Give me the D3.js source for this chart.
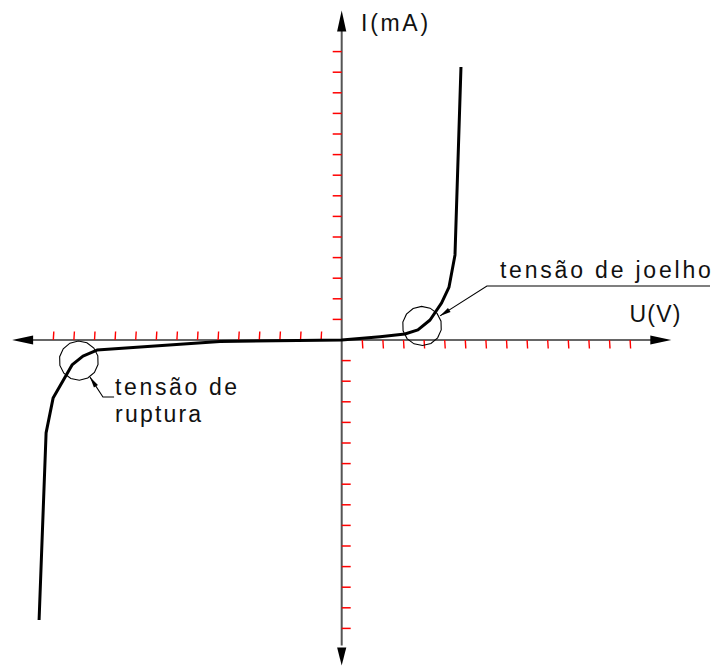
<!DOCTYPE html>
<html>
<head>
<meta charset="utf-8">
<script src="https://cdn.jsdelivr.net/npm/d3@7"></script>
<style>
  html, body { margin: 0; padding: 0; background: #fff; }
  svg { display: block; }
  text { font-family: "Liberation Sans", Arial, sans-serif; font-size: 23px; fill: #111; }
</style>
</head>
<body>
<svg id="chart" width="715" height="668"></svg>
<script>
// ---- data (units: one tick = one unit) ----
const voltage = [-14.69, -14.35, -14.01, -13.09, -12.56, -11.88, -5.91, 0, 1.86, 3.07, 3.70, 4.29, 4.85, 5.21, 5.50, 5.79];
const current = [-13.59, -4.51, -2.82, -1.21, -0.78, -0.49, -0.07, 0, 0.16, 0.29, 0.49, 0.97, 1.80, 2.57, 4.13, 13.25];
const xTicksNeg = [-14, -13, -12, -11, -10, -9, -8, -7, -6, -5, -4, -3, -2, -1];
const xTicksPos = [1, 2, 3, 4, 5, 6, 7, 8, 9, 10, 11, 12, 13, 14];
const yTicksPos = [1, 2, 3, 4, 5, 6, 7, 8, 9, 10, 11, 12, 13, 14];
const yTicksNeg = [-14, -13, -12, -11, -10, -9, -8, -7, -6, -5, -4, -3, -2, -1];
const xAxisExtent = [-16, 16];
const yAxisExtent = [-15.8, 16];
const xLabel = "U(V)";
const yLabel = "I(mA)";
const kneeLabel = "tensão de joelho";
const breakdownLabel = ["tensão de", "ruptura"];
const kneePoint = [3.90, 0.68];
const breakdownPoint = [-12.76, -1.0];

// ---- scales ----
const x = d3.scaleLinear().domain([-16, 16]).range([341.7 - 329.6, 341.7 + 329.6]);
const y = d3.scaleLinear().domain([-16, 16]).range([340 + 329.6, 340 - 329.6]);
const unit = x(1) - x(0);

const svg = d3.select("#chart");
const g = svg.append("g");

// ---- axes lines ----
const x0 = x(0), y0 = y(0);
const arrowLen = 21, arrowHalf = 4.6;
g.append("line")
  .attr("x1", x(xAxisExtent[0]) + arrowLen - 1).attr("x2", x(xAxisExtent[1]) - arrowLen + 1)
  .attr("y1", y0).attr("y2", y0)
  .attr("stroke", "#333").attr("stroke-width", 1.3);
g.append("line")
  .attr("x1", x0).attr("x2", x0)
  .attr("y1", y(yAxisExtent[1]) + arrowLen - 1).attr("y2", y(yAxisExtent[0]) - arrowLen + 1)
  .attr("stroke", "#555").attr("stroke-width", 2);

function arrow(tx, ty, dx, dy, len, half) {
  const bx = tx - dx * len, by = ty - dy * len;
  const px = -dy, py = dx;
  return `M${tx},${ty}L${bx + px * half},${by + py * half}L${bx - px * half},${by - py * half}Z`;
}
g.append("path").attr("d", arrow(x(xAxisExtent[1]), y0, 1, 0, arrowLen, arrowHalf)).attr("fill", "#000");
g.append("path").attr("d", arrow(x(xAxisExtent[0]), y0, -1, 0, arrowLen, arrowHalf)).attr("fill", "#000");
g.append("path").attr("d", arrow(x0, y(yAxisExtent[1]), 0, -1, arrowLen, arrowHalf)).attr("fill", "#000");
g.append("path").attr("d", arrow(x0, y(yAxisExtent[0]), 0, 1, arrowLen - 3, arrowHalf)).attr("fill", "#000");

// ---- ticks ----
const tickLen = 8.5;
const tickColor = "#ff0000";
g.selectAll(".xtn").data(xTicksNeg).join("line")
  .attr("x1", d => x(d) + 0.5).attr("x2", d => x(d))
  .attr("y1", y0 - tickLen).attr("y2", y0)
  .attr("stroke", tickColor).attr("stroke-width", 1.4);
g.selectAll(".xtp").data(xTicksPos).join("line")
  .attr("x1", d => x(d)).attr("x2", d => x(d) + 0.5)
  .attr("y1", y0).attr("y2", y0 + tickLen)
  .attr("stroke", tickColor).attr("stroke-width", 1.4);
g.selectAll(".ytp").data(yTicksPos).join("line")
  .attr("x1", x0 - tickLen - 0.5).attr("x2", x0)
  .attr("y1", d => y(d)).attr("y2", d => y(d))
  .attr("stroke", tickColor).attr("stroke-width", 1.5);
g.selectAll(".ytn").data(yTicksNeg).join("line")
  .attr("x1", x0).attr("x2", x0 + tickLen + 0.5)
  .attr("y1", d => y(d)).attr("y2", d => y(d))
  .attr("stroke", tickColor).attr("stroke-width", 1.5);

// ---- curve ----
const pts = voltage.map((v, i) => [v, current[i]]);
g.append("path")
  .datum(pts)
  .attr("d", d3.line().x(d => x(d[0])).y(d => y(d[1])))
  .attr("fill", "none").attr("stroke", "#000").attr("stroke-width", 3)
  .attr("stroke-linejoin", "round");

// ---- circles (polygonal, CAD-like) ----
function polyCircle(cx, cy, r, n) {
  const a = d3.range(n).map(i => [cx + r * Math.cos(2 * Math.PI * i / n + 0.2), cy + r * Math.sin(2 * Math.PI * i / n + 0.2)]);
  return "M" + a.map(p => p.join(",")).join("L") + "Z";
}
const rad = 0.95 * unit;
g.append("path").attr("d", polyCircle(x(kneePoint[0]), y(kneePoint[1]), rad, 14))
  .attr("fill", "none").attr("stroke", "#000").attr("stroke-width", 1.1);
g.append("path").attr("d", polyCircle(x(breakdownPoint[0]), y(breakdownPoint[1]), rad, 14))
  .attr("fill", "none").attr("stroke", "#000").attr("stroke-width", 1.1);

// ---- leaders ----
function leader(points) {
  const p = points.map(d => [x(d[0]), y(d[1])]);
  g.append("path").attr("d", d3.line()(p))
    .attr("fill", "none").attr("stroke", "#000").attr("stroke-width", 1.1);
  const [tx, ty] = p[0], [ox, oy] = p[1];
  const L = Math.hypot(tx - ox, ty - oy);
  g.append("path").attr("d", arrow(tx, ty, (tx - ox) / L, (ty - oy) / L, 11, 2.4)).attr("fill", "#000");
}
leader([[4.77, 1.17], [7.05, 2.62], [17.88, 2.62]]);
leader([[-12.22, -1.80], [-11.59, -2.77], [-11.05, -2.77]]);

// ---- texts ----
g.append("text").attr("x", x(7.68)).attr("y", y(3.03)).text(kneeLabel)
  .attr("textLength", 211).attr("lengthAdjust", "spacing");
g.append("text").attr("x", x(-11.0)).attr("y", y(-2.69)).text(breakdownLabel[0])
  .attr("textLength", 122).attr("lengthAdjust", "spacing");
g.append("text").attr("x", x(-11.0)).attr("y", y(-3.98)).text(breakdownLabel[1])
  .attr("textLength", 86).attr("lengthAdjust", "spacing");
g.append("text").attr("x", x(13.97)).attr("y", y(0.87)).text(xLabel)
  .attr("textLength", 51).attr("lengthAdjust", "spacing");
g.append("text").attr("x", x(0.94)).attr("y", y(14.98)).text(yLabel)
  .attr("textLength", 67).attr("lengthAdjust", "spacing");
</script>
</body>
</html>
